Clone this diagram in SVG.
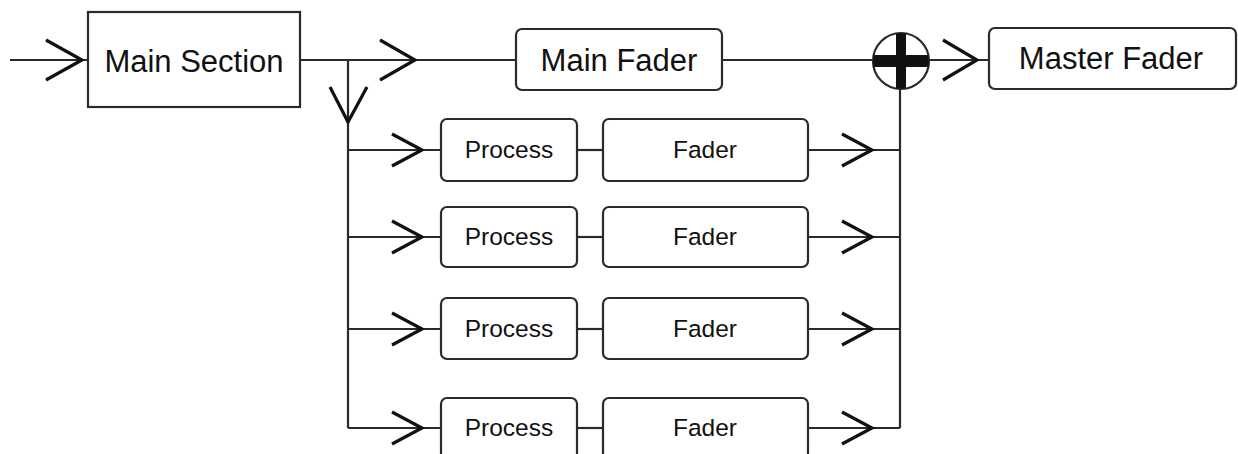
<svg xmlns="http://www.w3.org/2000/svg" width="1238" height="454" viewBox="0 0 1238 454">
<defs>
<style>
.box{fill:#fff;stroke:#2a2a2a;stroke-width:2.2}
.ln{fill:none;stroke:#2a2a2a;stroke-width:2.2}
.chev{fill:none;stroke:#111;stroke-width:3.2;stroke-linejoin:miter;stroke-linecap:butt}
.big{font-family:"Liberation Sans",Arial,sans-serif;font-size:31px;fill:#111;text-anchor:middle;dominant-baseline:central}
.small{font-family:"Liberation Sans",Arial,sans-serif;font-size:24.5px;fill:#111;text-anchor:middle;dominant-baseline:central}
</style>
<path id="chevR" d="M-30,-16 L0,0 L-30,16"/>
</defs>
<rect width="1238" height="454" fill="#fff"/>
<g id="connectors">
<line class="ln" x1="10" y1="60" x2="88" y2="60"/>
<line class="ln" x1="300" y1="60" x2="516" y2="60"/>
<line class="ln" x1="722" y1="60" x2="873" y2="60"/>
<line class="ln" x1="929" y1="60" x2="989" y2="60"/>
<line class="ln" x1="348" y1="60" x2="348" y2="428"/>
<line class="ln" x1="900" y1="89" x2="900" y2="428"/>
<line class="ln" x1="348" y1="150" x2="441" y2="150"/>
<line class="ln" x1="577" y1="150" x2="603" y2="150"/>
<line class="ln" x1="808" y1="150" x2="900" y2="150"/>
<line class="ln" x1="348" y1="237" x2="441" y2="237"/>
<line class="ln" x1="577" y1="237" x2="603" y2="237"/>
<line class="ln" x1="808" y1="237" x2="900" y2="237"/>
<line class="ln" x1="348" y1="329" x2="441" y2="329"/>
<line class="ln" x1="577" y1="329" x2="603" y2="329"/>
<line class="ln" x1="808" y1="329" x2="900" y2="329"/>
<line class="ln" x1="348" y1="428" x2="441" y2="428"/>
<line class="ln" x1="577" y1="428" x2="603" y2="428"/>
<line class="ln" x1="808" y1="428" x2="900" y2="428"/>
<path class="chev" d="M46,40 L82,60 L46,80"/>
<path class="chev" d="M380,40 L415,60 L380,80"/>
<path class="chev" d="M943,40 L977,60 L943,80"/>
<path class="chev" d="M330,87 L348,122 L367,87"/>
<use href="#chevR" class="chev" x="422" y="150"/>
<use href="#chevR" class="chev" x="872" y="150"/>
<use href="#chevR" class="chev" x="422" y="237"/>
<use href="#chevR" class="chev" x="872" y="237"/>
<use href="#chevR" class="chev" x="422" y="329"/>
<use href="#chevR" class="chev" x="872" y="329"/>
<use href="#chevR" class="chev" x="422" y="428"/>
<use href="#chevR" class="chev" x="872" y="428"/>
</g>
<g id="main-section">
<rect class="box" x="88" y="12" width="212" height="95"/>
<text class="big" x="194" y="61">Main Section</text>
</g>
<g id="main-fader">
<rect class="box" x="516" y="29" width="206" height="61" rx="6"/>
<text class="big" x="619" y="60">Main Fader</text>
</g>
<g id="sum">
<circle cx="901" cy="61" r="28" fill="#fff" stroke="#2a2a2a" stroke-width="2.2"/>
<rect x="896" y="33.5" width="10" height="55" fill="#111"/>
<rect x="873.5" y="55" width="55" height="12" fill="#111"/>
</g>
<g id="master-fader">
<rect class="box" x="989" y="28" width="247" height="61" rx="6"/>
<text class="big" x="1111" y="58">Master Fader</text>
</g>
<g id="process-1"><rect class="box" x="441" y="119" width="136" height="62" rx="6"/><text class="small" x="509" y="149">Process</text></g>
<g id="fader-1"><rect class="box" x="603" y="119" width="205" height="62" rx="6"/><text class="small" x="705" y="149">Fader</text></g>
<g id="process-2"><rect class="box" x="441" y="207" width="136" height="60" rx="6"/><text class="small" x="509" y="236">Process</text></g>
<g id="fader-2"><rect class="box" x="603" y="207" width="205" height="60" rx="6"/><text class="small" x="705" y="236">Fader</text></g>
<g id="process-3"><rect class="box" x="441" y="298" width="136" height="61" rx="6"/><text class="small" x="509" y="328">Process</text></g>
<g id="fader-3"><rect class="box" x="603" y="298" width="205" height="61" rx="6"/><text class="small" x="705" y="328">Fader</text></g>
<g id="process-4"><rect class="box" x="441" y="398" width="136" height="61" rx="6"/><text class="small" x="509" y="427">Process</text></g>
<g id="fader-4"><rect class="box" x="603" y="398" width="205" height="61" rx="6"/><text class="small" x="705" y="427">Fader</text></g>
</svg>
